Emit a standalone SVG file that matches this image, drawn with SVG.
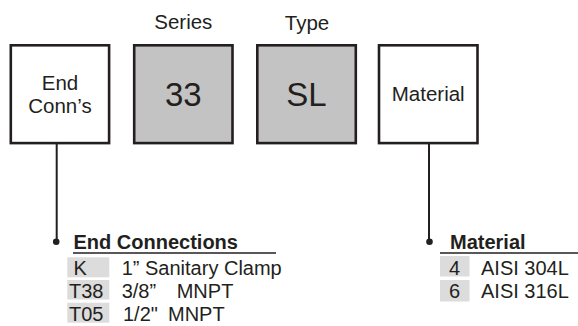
<svg xmlns="http://www.w3.org/2000/svg" width="578" height="326" viewBox="0 0 578 326">
<style>
text{font-family:"Liberation Sans",Arial,sans-serif;fill:#231f20}
.box{stroke:#231f20;stroke-width:2.6}
.w{fill:#fff}
.g{fill:#c3c3c3}
.lg{fill:#dcdcdc}
.lbl{font-size:20.5px;text-anchor:middle}
.big{font-size:33px;text-anchor:middle}
.hd{font-size:20px;font-weight:bold}
.it{font-size:20px}
.ln{stroke:#231f20;stroke-width:2;fill:none}
</style>
<rect width="578" height="326" fill="#fff"/>
<text class="lbl" x="183.3" y="29">Series</text>
<text class="lbl" x="307" y="30">Type</text>
<g id="node-endconn">
<rect class="box w" x="10.8" y="45.3" width="98.3" height="97.8"/>
<text class="lbl" x="60" y="90">End</text>
<text class="lbl" x="60" y="113">Conn’s</text>
</g>
<g id="node-series">
<rect class="box g" x="134.2" y="45.3" width="98.3" height="97.8"/>
<text class="big" x="183.3" y="106">33</text>
</g>
<g id="node-type">
<rect class="box g" x="257.3" y="45.3" width="98.5" height="97.8"/>
<text class="big" x="306.5" y="106">SL</text>
</g>
<g id="node-material">
<rect class="box w" x="379" y="45.3" width="98.5" height="97.8"/>
<text class="lbl" x="428.2" y="101">Material</text>
</g>
<g id="connectors">
<line class="ln" x1="56.7" y1="143" x2="56.7" y2="241.7"/>
<circle cx="56.2" cy="241.7" r="3.3" fill="#231f20"/>
<line class="ln" x1="429" y1="143" x2="429" y2="241.7"/>
<circle cx="429.5" cy="241.7" r="3.3" fill="#231f20"/>
</g>
<g id="legend-endconn">
<text class="hd" x="73.5" y="249">End Connections</text>
<line x1="73" y1="253" x2="276" y2="253" stroke="#231f20" stroke-width="1.4"/>
<rect class="lg" x="67.3" y="257.3" width="42" height="20"/>
<rect class="lg" x="67.3" y="280" width="42" height="19.5"/>
<rect class="lg" x="67.3" y="302.7" width="42" height="20"/>
<text class="it" x="73.5" y="275">K</text>
<text class="it" x="69" y="297.5">T38</text>
<text class="it" x="69" y="320.5">T05</text>
<text class="it" x="121.7" y="275">1” Sanitary Clamp</text>
<text class="it" x="121.7" y="297.5">3/8”<tspan x="176.7">MNPT</tspan></text>
<text class="it" x="123" y="320.5">1/2"<tspan x="168">MNPT</tspan></text>
</g>
<g id="legend-material">
<text class="hd" x="450" y="249">Material</text>
<line x1="440" y1="253" x2="578" y2="253" stroke="#231f20" stroke-width="1.4"/>
<rect class="lg" x="440" y="256" width="29.5" height="20.5"/>
<rect class="lg" x="440" y="280" width="29.5" height="21.5"/>
<text class="it" x="454.5" y="274.5" text-anchor="middle">4</text>
<text class="it" x="454.5" y="298" text-anchor="middle">6</text>
<text class="it" x="481" y="274.5">AISI 304L</text>
<text class="it" x="481" y="298">AISI 316L</text>
</g>
</svg>
